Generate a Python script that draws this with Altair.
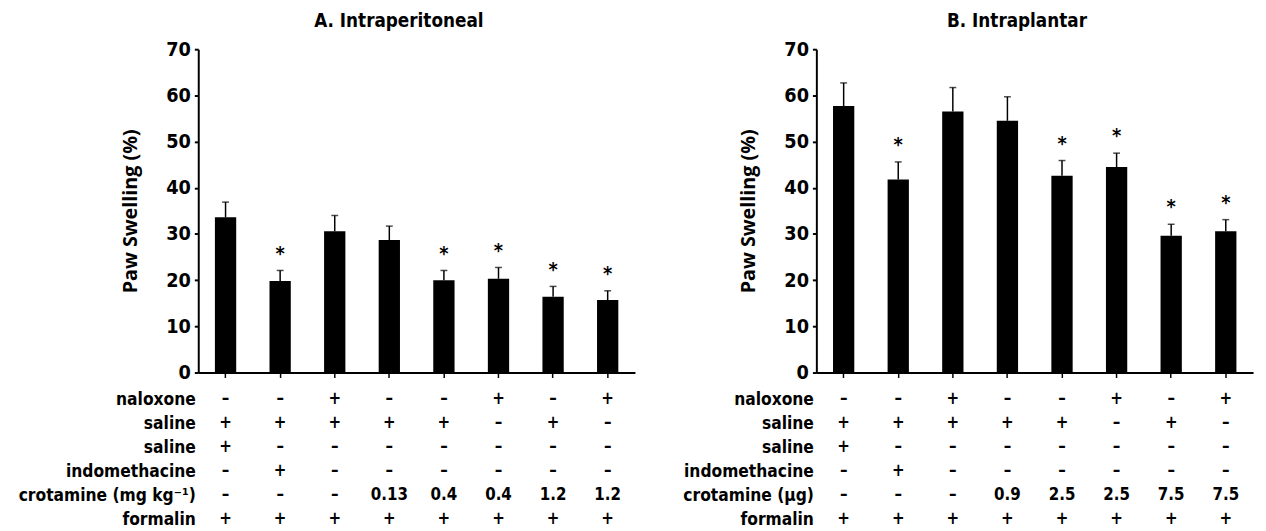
import altair as alt
import pandas as pd

# ---------------- data ----------------
groups = [1, 2, 3, 4, 5, 6, 7, 8]

a_title = "A.  Intraperitoneal"
a_mean = [33.6, 19.8, 30.6, 28.7, 20.0, 20.3, 16.4, 15.7]
a_sem = [3.3, 2.3, 3.4, 3.0, 2.1, 2.45, 2.25, 2.0]
a_sig = [False, True, False, False, True, True, True, True]
a_crot = ["–", "–", "–", "0.13", "0.4", "0.4", "1.2", "1.2"]
a_crot_label = "crotamine (mg kg⁻¹)"

b_title = "B.  Intraplantar"
b_mean = [57.7, 41.8, 56.5, 54.5, 42.6, 44.5, 29.6, 30.6]
b_sem = [5.0, 3.8, 5.2, 5.2, 3.3, 3.0, 2.5, 2.5]
b_sig = [False, True, False, False, True, True, True, True]
b_crot = ["–", "–", "–", "0.9", "2.5", "2.5", "7.5", "7.5"]
b_crot_label = "crotamine (μg)"

naloxone = ["–", "–", "+", "–", "–", "+", "–", "+"]
saline1 = ["+", "+", "+", "+", "+", "–", "+", "–"]
saline2 = ["+", "–", "–", "–", "–", "–", "–", "–"]
indometh = ["–", "+", "–", "–", "–", "–", "–", "–"]
formalin = ["+", "+", "+", "+", "+", "+", "+", "+"]

y_ticks = [0, 10, 20, 30, 40, 50, 60, 70]

FONT = "DejaVu Sans Condensed, Liberation Sans Narrow, sans-serif"
TFONT = "Open Sans, Noto Sans, sans-serif"
W, H = 443, 328


def xscale():
    return alt.Scale(paddingInner=0.61, paddingOuter=0.305)


def panel(title, mean, sem, sig, crot, crot_label):
    df = pd.DataFrame({
        "g": groups,
        "mean": mean,
        "top": [m + s for m, s in zip(mean, sem)],
        "sig": ["*" if s else "" for s in sig],
    })
    base = alt.Chart(df)
    x = alt.X("g:O", scale=xscale(),
              axis=alt.Axis(labels=False, title=None, domainWidth=2, domainColor="black",
                            tickSize=5, tickWidth=1.5, tickColor="black"))
    y = alt.Y("mean:Q", scale=alt.Scale(domain=[0, 70], nice=False),
              axis=alt.Axis(values=y_ticks, title="Paw Swelling (%)", grid=False,
                            domainWidth=2, domainColor="black", tickSize=4, tickWidth=2,
                            tickColor="black", labelFont=FONT, labelFontSize=20,
                            labelFontWeight="bold", labelColor="black", labelPadding=4,
                            titleFont=TFONT, titleFontSize=20, titleFontWeight="bold",
                            titleColor="black", titlePadding=26))
    bars = base.mark_bar(color="black").encode(x=x, y=y)
    err = base.mark_rule(color="black", strokeWidth=1.5).encode(
        x=alt.X("g:O", scale=xscale()), y="mean:Q", y2="top:Q")
    cap = base.mark_tick(color="black", thickness=1.5, size=7).encode(
        x=alt.X("g:O", scale=xscale()), y="top:Q")
    star = base.mark_text(font=FONT, fontSize=20, fontWeight="bold", color="black",
                          baseline="middle", dy=-17).encode(
        x=alt.X("g:O", scale=xscale()), y="top:Q", text="sig:N")
    top = alt.layer(bars, err, cap, star).properties(
        width=W, height=H,
        title=alt.TitleParams(title, font=FONT, fontSize=19, fontWeight="bold",
                              color="black", dx=-18, offset=9))

    row_labels = ["naloxone", "saline", "saline", "indomethacine", crot_label, "formalin"]
    row_vals = [naloxone, saline1, saline2, indometh, crot, formalin]
    recs = []
    for r, vals in enumerate(row_vals):
        for g, t in zip(groups, vals):
            recs.append({"r": r, "g": g, "t": t})
    tdf = pd.DataFrame(recs)
    lab_expr = "[" + ",".join("'" + s + "'" for s in row_labels) + "][datum.value]"
    tab = alt.Chart(tdf).mark_text(font=FONT, fontSize=17, fontWeight="bold",
                                   color="black").encode(
        x=alt.X("g:O", scale=xscale(), axis=None),
        y=alt.Y("r:O", axis=alt.Axis(title=None, domain=False, ticks=False,
                                     labelExpr=lab_expr, labelFont=FONT, labelFontSize=17.5,
                                     labelFontWeight="bold", labelColor="black",
                                     labelPadding=3, labelLimit=300)),
        text="t:N").properties(width=W, height=146)
    return alt.vconcat(top, tab, spacing=5)


chart = alt.hconcat(
    panel(a_title, a_mean, a_sem, a_sig, a_crot, a_crot_label),
    panel(b_title, b_mean, b_sem, b_sig, b_crot, b_crot_label),
    spacing=48,
).properties(padding={"left": 10, "top": 0, "right": 5, "bottom": 0}
).configure_view(stroke=None)

chart.save("out.html", embed_options={"renderer": "svg", "actions": False})
